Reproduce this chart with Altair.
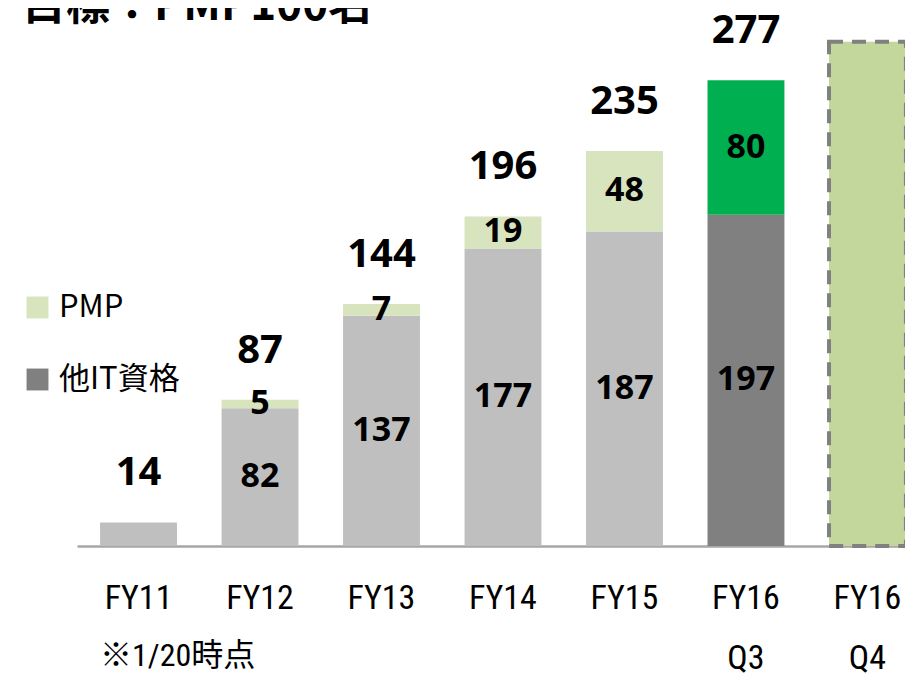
import altair as alt
import pandas as pd

# ---- data ----
categories = ["FY11", "FY12", "FY13", "FY14", "FY15", "FY16 Q3", "FY16 Q4"]
other_it = [14, 82, 137, 177, 187, 197, None]
pmp = [None, 5, 7, 19, 48, 80, None]
target = [None, None, None, None, None, None, 300]
show_other_label = [False, True, True, True, True, True, False]
other_key = ["他IT資格 (過去)"] * 5 + ["他IT資格", None]
pmp_key = ["PMP"] * 5 + ["PMP (FY16 Q3)", None]
legend_items = ["PMP", "他IT資格"]
title_text = "目標：PMP100名"
footnote_text = "※1/20時点"

color_domain = ["PMP", "他IT資格", "PMP (FY16 Q3)", "他IT資格 (過去)", "目標"]
color_range = ["#D7E4BD", "#808080", "#00B050", "#BFBFBF", "#C3D69B"]

# ---- tables ----
seg_rows, lab_rows, tot_rows, tgt_rows = [], [], [], []
for i, c in enumerate(categories):
    o, p = other_it[i], pmp[i]
    if o is not None:
        seg_rows.append(dict(cat=c, key=other_key[i], y0=0, y1=o))
        if show_other_label[i]:
            lab_rows.append(dict(cat=c, mid=o / 2, label=str(o)))
    if p is not None:
        seg_rows.append(dict(cat=c, key=pmp_key[i], y0=o, y1=o + p))
        lab_rows.append(dict(cat=c, mid=o + p / 2, label=str(p)))
    if o is not None:
        tot_rows.append(dict(cat=c, total=o + (p or 0), label=str(o + (p or 0))))
    if target[i] is not None:
        tgt_rows.append(dict(cat=c, key="目標", y0=0, y1=target[i]))

seg = pd.DataFrame(seg_rows)
labs = pd.DataFrame(lab_rows)
tots = pd.DataFrame(tot_rows)
tgt = pd.DataFrame(tgt_rows)

NUM_FONT = "Noto Sans"
NARROW = "Liberation Sans Narrow, Roboto Condensed, Noto Sans CJK JP, sans-serif"

x_enc = alt.X(
    "cat:N",
    sort=categories,
    scale=alt.Scale(range=[69, 921], paddingInner=0.367, paddingOuter=0.19),
    axis=alt.Axis(
        title=None,
        labelExpr="split(datum.label, ' ')",
        labelFontSize=34,
        labelFont=NARROW,
        labelColor="#000000",
        labelAngle=0,
        labelAlign="center",
        labelPadding=52,
        labelLineHeight=60,
        ticks=False,
        domainColor="#A6A6A6",
        domainWidth=2.5,
    ),
)
y_scale = alt.Scale(domain=[0, 320])

color_enc = alt.Color(
    "key:N",
    scale=alt.Scale(domain=color_domain, range=color_range),
    legend=alt.Legend(
        values=legend_items,
        orient="none",
        legendX=14,
        legendY=284,
        title=None,
        symbolType="square",
        symbolSize=480,
        symbolStrokeWidth=0,
        labelFontSize=31,
        labelFont="Noto Sans CJK JP",
        labelColor="#000000",
        labelOffset=6,
        rowPadding=40,
    ),
)

bars = alt.Chart(seg).mark_bar().encode(
    x=x_enc,
    y=alt.Y("y1:Q", scale=y_scale, axis=None),
    y2="y0:Q",
    fill=color_enc,
)

target_bar = alt.Chart(tgt).mark_bar(
    stroke="#808080", strokeWidth=4, strokeDash=[14, 9]
).encode(
    x=alt.X("cat:N", sort=categories),
    y=alt.Y("y1:Q", scale=y_scale, axis=None),
    y2="y0:Q",
    fill=alt.Color("key:N"),
)

inner = alt.Chart(labs).mark_text(
    font=NUM_FONT, fontSize=34, fontWeight="bold", color="#000000", baseline="middle"
).encode(
    x=alt.X("cat:N", sort=categories),
    y=alt.Y("mid:Q", scale=y_scale),
    text="label:N",
)

totals = alt.Chart(tots).mark_text(
    font=NUM_FONT, fontSize=40, fontWeight="bold", color="#000000", baseline="middle", dy=-49
).encode(
    x=alt.X("cat:N", sort=categories),
    y=alt.Y("total:Q", scale=y_scale),
    text="label:N",
)

title = alt.Chart(pd.DataFrame({"t": [title_text]})).mark_text(
    font="Noto Sans CJK JP", fontSize=44, fontWeight="bold", color="#000000",
    align="left", baseline="alphabetic"
).encode(x=alt.value(14), y=alt.value(12), text="t:N")

foot = alt.Chart(pd.DataFrame({"t": [footnote_text]})).mark_text(
    font=NARROW, fontSize=32, color="#000000", align="left", baseline="middle"
).encode(x=alt.value(92), y=alt.value(648), text="t:N")

chart = alt.layer(target_bar, bars, inner, totals, title, foot).properties(
    width=897,
    height=538,
    autosize=alt.AutoSizeParams(type="none"),
    padding={"left": 0, "top": 0, "right": 0, "bottom": 129},
).configure(background="#FFFFFF").configure_view(stroke=None, strokeWidth=0)

chart.save("out.html", embed_options={"renderer": "svg", "actions": False})
